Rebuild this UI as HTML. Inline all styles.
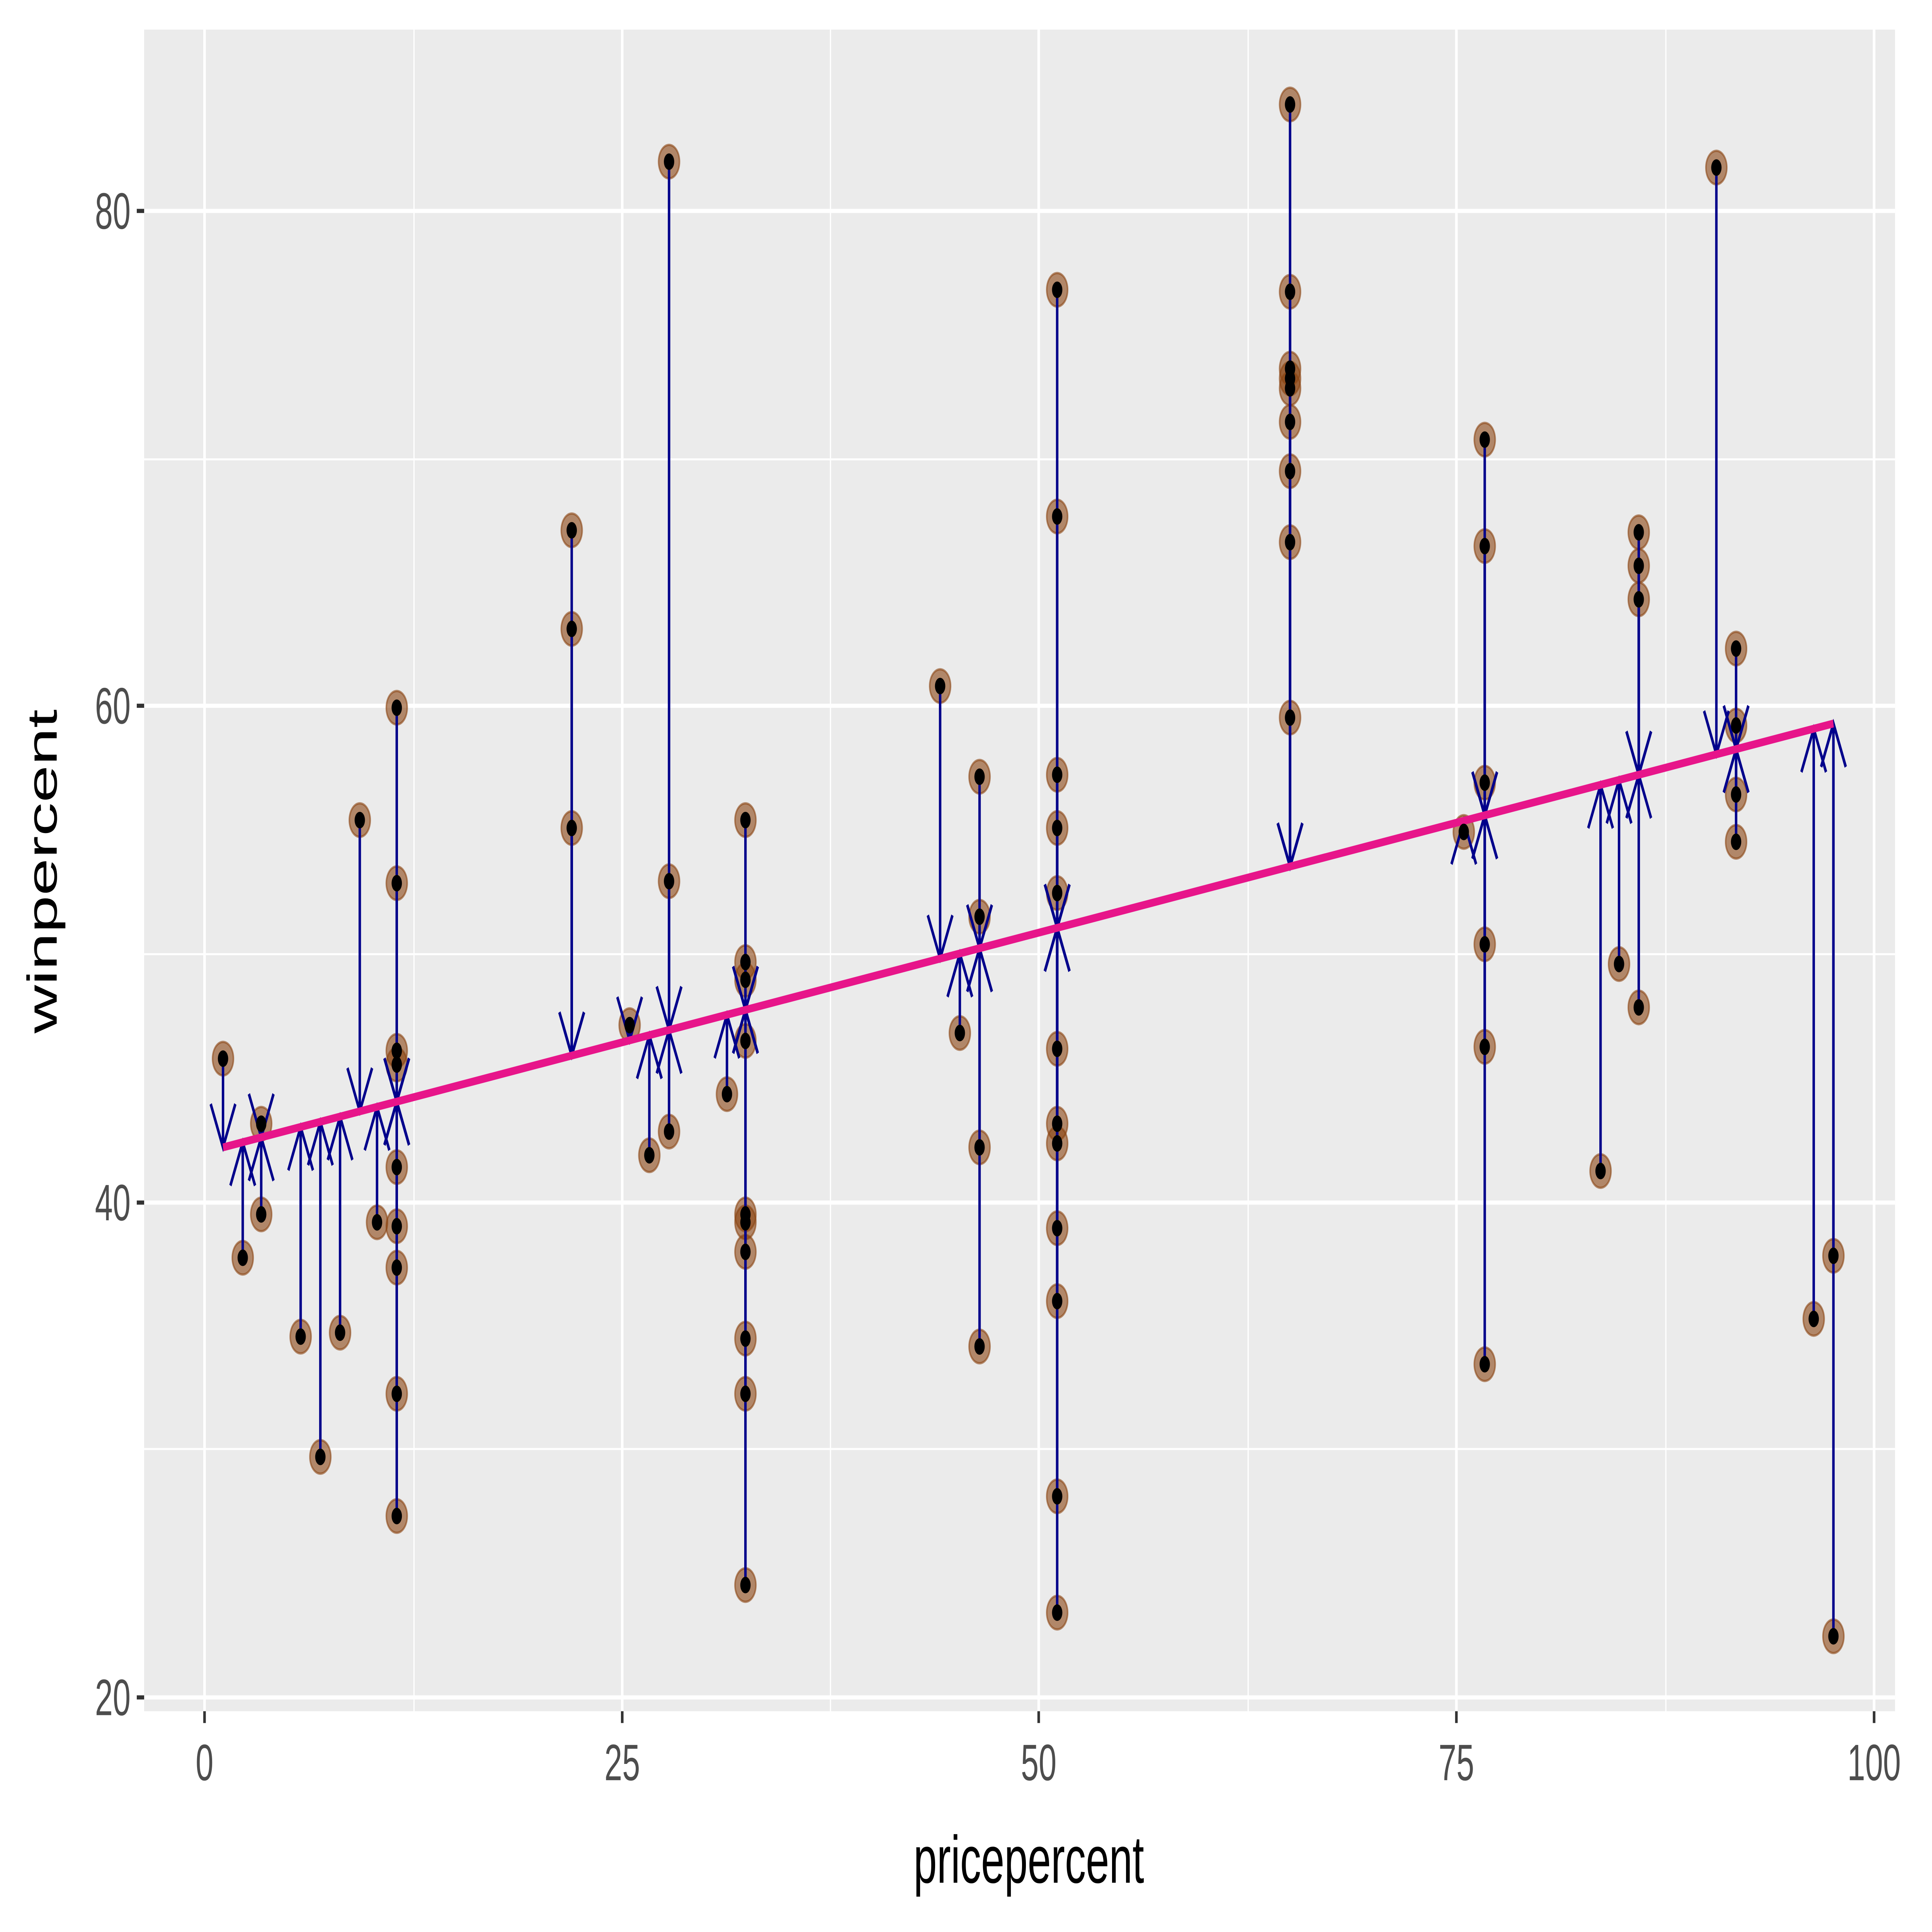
<!DOCTYPE html>
<html><head><meta charset="utf-8"><style>html,body{margin:0;padding:0;background:#fff;overflow:hidden}svg{display:block;position:fixed;left:0;top:0;width:100vw;height:100vh}</style></head>
<body>
<svg id="s" xmlns="http://www.w3.org/2000/svg" viewBox="0 0 1568 980" preserveAspectRatio="none">
<rect x="0" y="0" width="1568" height="980" fill="#fff"/>
<rect x="117" y="15" width="1421" height="853" fill="#EBEBEB"/>
<g stroke="#fff" stroke-width="1">
<line x1="336" y1="15" x2="336" y2="868"/><line x1="674" y1="15" x2="674" y2="868"/>
<line x1="1013" y1="15" x2="1013" y2="868"/><line x1="1352" y1="15" x2="1352" y2="868"/>
<line x1="117" y1="233" x2="1538" y2="233"/><line x1="117" y1="484" x2="1538" y2="484"/><line x1="117" y1="735" x2="1538" y2="735"/>
</g>
<g stroke="#fff" stroke-width="2.1">
<line x1="166" y1="15" x2="166" y2="868"/><line x1="505" y1="15" x2="505" y2="868"/>
<line x1="843" y1="15" x2="843" y2="868"/><line x1="1182" y1="15" x2="1182" y2="868"/><line x1="1521" y1="15" x2="1521" y2="868"/>
<line x1="117" y1="107" x2="1538" y2="107"/><line x1="117" y1="358" x2="1538" y2="358"/>
<line x1="117" y1="610" x2="1538" y2="610"/><line x1="117" y1="861" x2="1538" y2="861"/>
</g>
<g stroke="#333" stroke-width="2.1">
<line x1="111" y1="107" x2="117" y2="107"/><line x1="111" y1="358" x2="117" y2="358"/>
<line x1="111" y1="610" x2="117" y2="610"/><line x1="111" y1="861" x2="117" y2="861"/>
<line x1="166" y1="868" x2="166" y2="874"/><line x1="505" y1="868" x2="505" y2="874"/>
<line x1="843" y1="868" x2="843" y2="874"/><line x1="1182" y1="868" x2="1182" y2="874"/><line x1="1521" y1="868" x2="1521" y2="874"/>
</g>
<g font-family="Liberation Sans, sans-serif" font-size="26" fill="#4D4D4D">
<text x="106" y="116" text-anchor="end">80</text><text x="106" y="367" text-anchor="end">60</text>
<text x="106" y="619" text-anchor="end">40</text><text x="106" y="870" text-anchor="end">20</text>
<text x="166" y="903" text-anchor="middle">0</text><text x="505" y="903" text-anchor="middle">25</text>
<text x="843" y="903" text-anchor="middle">50</text><text x="1182" y="903" text-anchor="middle">75</text><text x="1521" y="903" text-anchor="middle">100</text>
</g>
<text x="835" y="955" font-family="Liberation Sans, sans-serif" font-size="34" text-anchor="middle" fill="#000">pricepercent</text>
<text transform="translate(46,442) rotate(-90)" font-family="Liberation Sans, sans-serif" font-size="34" text-anchor="middle" fill="#000">winpercent</text>
<g id="pts"></g><g id="arr"></g>
<line x1="181" y1="582" x2="1488" y2="367" stroke="#E7158A" stroke-width="4"/>
<g id="dots"></g>
</svg>
<script>
var d={181:[537],197:[638],212:[570,616],244:[678],260:[739],276:[676],292:[416],306:[620],
322:[359,448,533,540,592,622,643,707,769],464:[269,319,420],511:[520],527:[586],543:[82,447,574],
590:[555],605:[416,488,497,528,616,620,635,679,707,804],763:[348],779:[524],795:[394,465,582,683],
858:[147,262,393,420,453,532,570,580,623,660,759,818],1047:[53,148,187,192,197,214,239,275,364],
1188:[422],1205:[223,277,397,479,531,692],1299:[594],1314:[489],1330:[270,287,304,511],
1393:[85],1409:[329,368,403,427],1472:[669],1488:[637,830]};
var NS="http://www.w3.org/2000/svg",P=document.getElementById('pts'),A=document.getElementById('arr'),D=document.getElementById('dots');
function el(t,a,p){var e=document.createElementNS(NS,t);for(var k in a)e.setAttribute(k,a[k]);p.appendChild(e);}
for(var k in d){var x=+k,yf=582-0.16450*(x-181);d[k].forEach(function(y){
el('circle',{cx:x,cy:y,r:8.5,fill:'#8B4513','fill-opacity':0.6,stroke:'#8B4513','stroke-opacity':0.6,'stroke-width':1.2},P);
var s=y<yf?-1:1;
el('line',{x1:x,y1:y,x2:x,y2:yf,stroke:'#00008B','stroke-width':2},A);
if(Math.abs(y-yf)>2)el('polyline',{points:(x-10)+','+(yf+s*22)+' '+x+','+yf+' '+(x+10)+','+(yf+s*22),fill:'none',stroke:'#00008B','stroke-width':2},A);
el('circle',{cx:x,cy:y,r:4.2,fill:'#000'},D);});}
</script>
</body></html>
